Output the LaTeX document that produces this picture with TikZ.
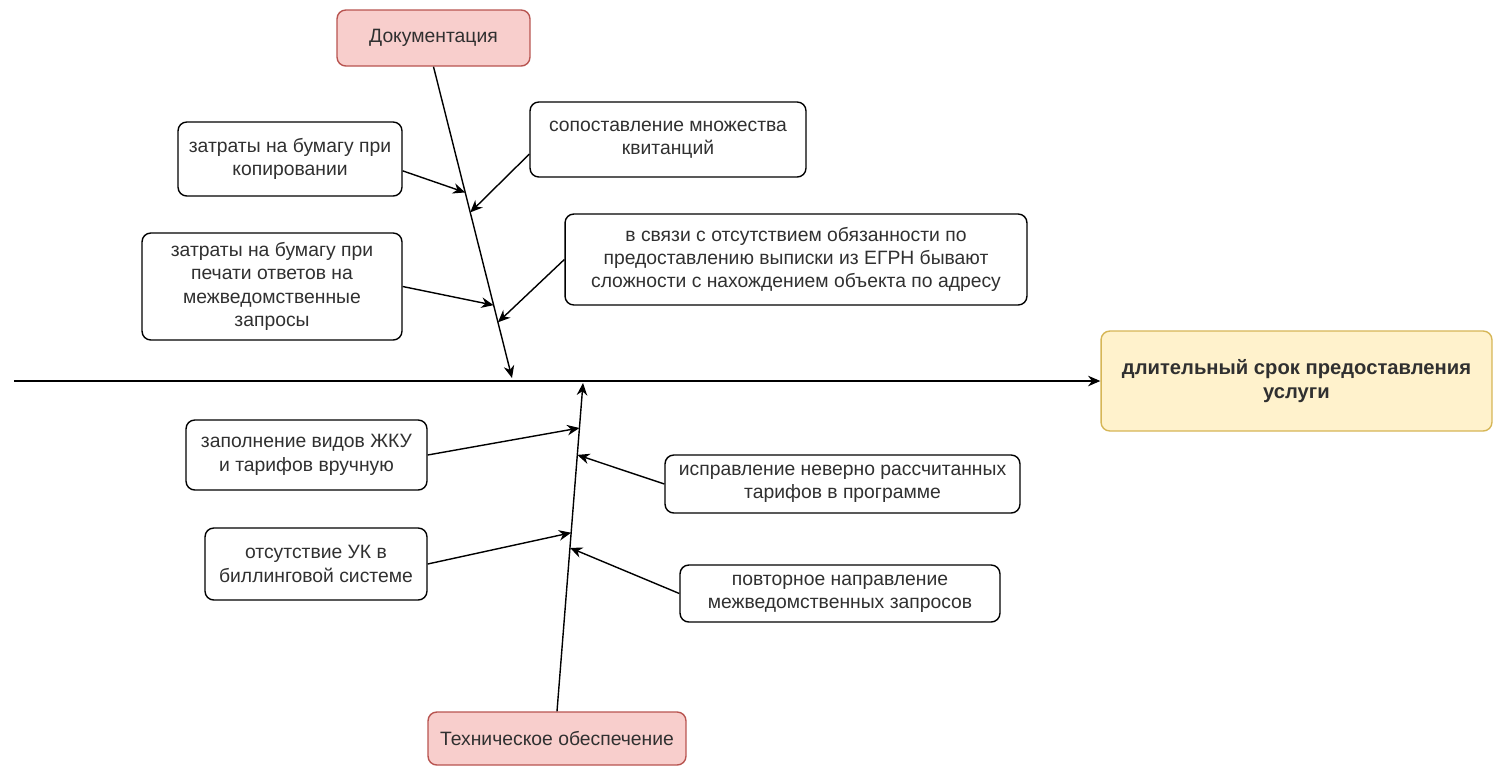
\documentclass[tikz,border=0pt]{standalone}
\usepackage{fontspec}
\setmainfont{Liberation Sans}
\usepackage{xcolor}
\usepackage{tikz}
\usetikzlibrary{positioning,calc,arrows.meta}
\definecolor{catfill}{HTML}{F8CECC}
\definecolor{catline}{HTML}{B85450}
\definecolor{efffill}{HTML}{FFF2CC}
\definecolor{effline}{HTML}{D6B656}
\definecolor{txt}{HTML}{303030}

\begin{document}
\begin{tikzpicture}[x=0.02cm,y=-0.02cm,line width=0.8pt,>={Stealth[length=7pt,width=6pt]},
  box/.style={draw,rounded corners=5pt,align=center,text=txt,font=\fontsize{11}{13.3}\selectfont},
  cat/.style={box,fill=catfill,draw=catline},
  eff/.style={box,fill=efffill,draw=effline,font=\fontsize{11.5}{14}\selectfont\bfseries}]
   \useasboundingbox (0,0) rectangle (1494,765);
   \node[cat, minimum width=3.86cm, minimum height=1.12cm] (docs) at (433.5,38) {Документация};
   \node[cat, minimum width=5.16cm, minimum height=1.06cm] (tech) at (557,738.5) {Техническое обеспечение};
   \node[eff, minimum width=7.82cm, minimum height=2cm] (effect) at (1296.5,381) {длительный срок предоставления\\услуги};
   \node[box, minimum width=4.48cm, minimum height=1.48cm] (copy) at (290,159) {затраты на бумагу при\\копировании};
   \node[box, minimum width=5.52cm, minimum height=1.5cm] (match) at (668,139.5) {сопоставление множества\\квитанций};
   \node[box, minimum width=5.2cm, minimum height=2.14cm] (print) at (272,286.5) {затраты на бумагу при\\печати ответов на\\межведомственные\\запросы};
   \node[box, minimum width=9.24cm, minimum height=1.82cm] (egrn) at (796,259.5) {в связи с отсутствием обязанности по\\предоставлению выписки из ЕГРН бывают\\сложности с нахождением объекта по адресу};
   \node[box, minimum width=4.82cm, minimum height=1.4cm] (zhku) at (306.5,455) {заполнение видов ЖКУ\\и тарифов вручную};
   \node[box, minimum width=7.1cm, minimum height=1.16cm] (tariff) at (842.5,484) {исправление неверно рассчитанных\\тарифов в программе};
   \node[box, minimum width=4.44cm, minimum height=1.44cm] (uk) at (316,564) {отсутствие УК в\\биллинговой системе};
   \node[box, minimum width=6.4cm, minimum height=1.14cm] (repeat) at (840,593.5) {повторное направление\\межведомственных запросов};
   \coordinate (tail) at (14,381);
   \coordinate (t1) at (512,378);
   \coordinate (t2) at (583,383);
   \coordinate (c1) at ($(docs.south)!0.404!(t1)$);
   \coordinate (c2) at ($(docs.south)!0.468!(t1)$);
   \coordinate (c3) at ($(docs.south)!0.766!(t1)$);
   \coordinate (c4) at ($(docs.south)!0.821!(t1)$);
   \coordinate (c5) at ($(tech.north)!0.863!(t2)$);
   \coordinate (c6) at ($(tech.north)!0.781!(t2)$);
   \coordinate (c7) at ($(tech.north)!0.544!(t2)$);
   \coordinate (c8) at ($(tech.north)!0.498!(t2)$);
   \draw[->] (tail) -- (effect.west);
   \draw[->] (docs.south) -- (t1);
   \draw[->] (tech.north) -- (t2);
   \draw[->] (copy.-6) -- (c1);
   \draw[->] (match.186) -- (c2);
   \draw[->] (print.east) -- (c3);
   \draw[->] (egrn.west) -- (c4);
   \draw[->] (zhku.east) -- (c5);
   \draw[->] (tariff.west) -- (c6);
   \draw[->] (uk.east) -- (c7);
   \draw[->] (repeat.west) -- (c8);
\end{tikzpicture}
\end{document}
